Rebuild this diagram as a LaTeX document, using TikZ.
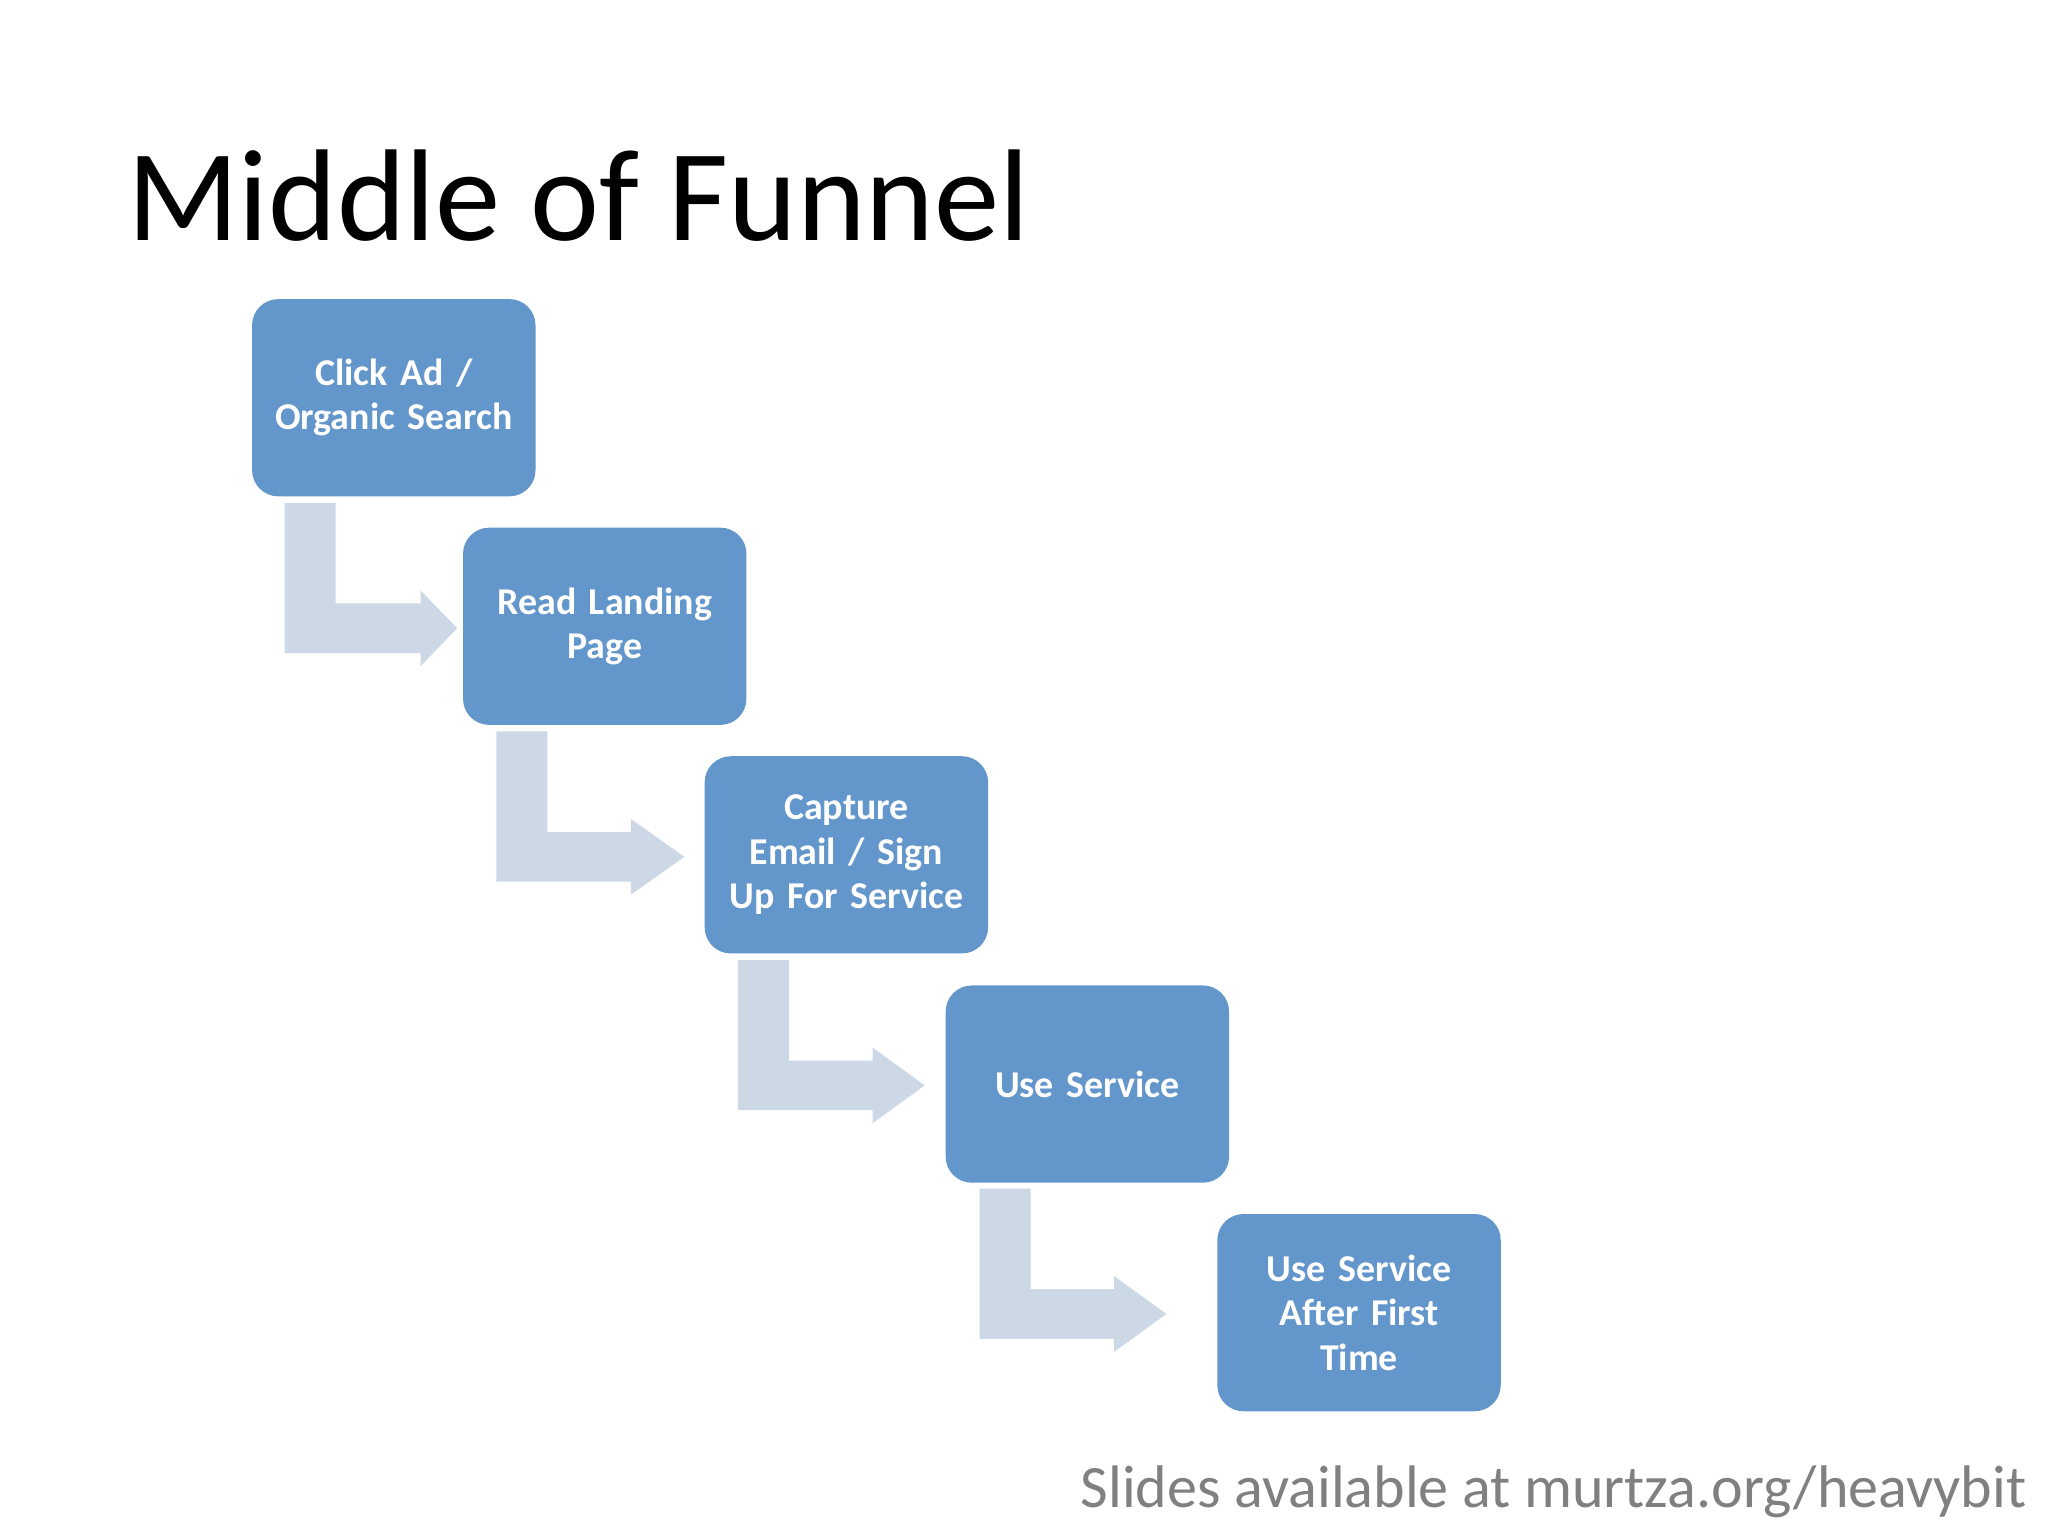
\documentclass[tikz,border=0pt]{standalone}
\usepackage{fontspec}
\setmainfont{Carlito}
\begin{document}
\begin{tikzpicture}[x=0.5pt,y=-0.5pt,
  stepbox/.style={fill=boxblue,rounded corners=10pt,text=white,font=\fontsize{14.5pt}{17pt}\selectfont\bfseries,align=center,text width=100pt,minimum width=108.5pt,minimum height=75.5pt,inner sep=0pt},
  bent/.style={fill=arrowgray,draw=none}]
\definecolor{boxblue}{HTML}{6396CB}
\definecolor{arrowgray}{HTML}{CDD8E6}
\definecolor{footgray}{HTML}{808080}
\useasboundingbox (0,0) rectangle (1568,1176);
\fill[white] (0,0) rectangle (1568,1176);
\node[anchor=base west,inner sep=0pt,font=\fontsize{50pt}{60pt}\selectfont] (title) at (97,184) {Middle of Funnel};
\node[stepbox] (b1) at (301.5,304.5) {Click Ad /\\Organic Search};
\node[stepbox] (b2) at (463,479.5) {Read Landing\\Page};
\node[stepbox] (b3) at (648,654.5) {Capture\\Email / Sign\\Up For Service};
\node[stepbox] (b4) at (832.5,830) {Use Service};
\node[stepbox] (b5) at (1040.5,1005) {Use Service\\After First\\Time};
% bent arrows: (x0 of bar, top y, base x of head, tip x)
\foreach \nm/\xa/\ya/\hb/\tp in {a1/218/385/322/350, a2/380/560/483/524, a3/565/735/668/708, a4/750/910/853/893}{
  \fill[bent] (\xa,\ya) -- (\xa+39,\ya) -- (\xa+39,\ya+77) -- (\hb,\ya+77) -- (\hb,\ya+67) -- (\tp,\ya+96) -- (\hb,\ya+125) -- (\hb,\ya+115) -- (\xa,\ya+115) -- cycle;
}
\node[anchor=base east,inner sep=0pt,text=footgray,font=\fontsize{23pt}{28pt}\selectfont] (foot) at (1552,1154) {Slides available at murtza.org/heavybit};
\end{tikzpicture}
\end{document}
